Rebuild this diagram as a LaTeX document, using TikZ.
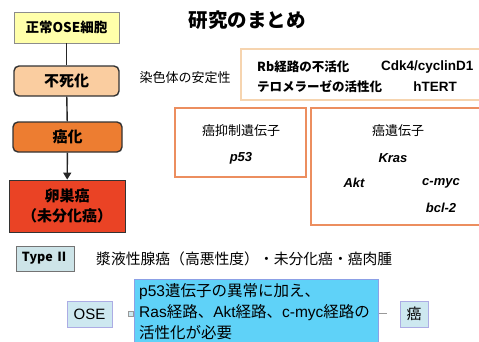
\documentclass[tikz,border=0pt]{standalone}
\usepackage{fontspec}
\setmainfont{Liberation Sans}
\newfontfamily\jp{Noto Sans CJK JP}
\usetikzlibrary{arrows.meta,positioning}

\begin{document}
\begin{tikzpicture}[x=1pt,y=-1pt,
  stage/.style={draw=black!80,line width=1.4pt,rounded corners=5pt,font=\jp\bfseries\fontsize{15}{18}\selectfont},
  genebox/.style={line width=1.6pt},
  gene/.style={font=\bfseries\itshape\fontsize{13}{15}\selectfont},
  label/.style={font=\jp\fontsize{13}{15}\selectfont},
  tagbox/.style={draw=tagline,fill=tagfill,line width=0.8pt,inner sep=0pt,font=\jp\fontsize{15}{18}\selectfont}]

\definecolor{normalyellow}{RGB}{255,255,170}
\definecolor{immortalpeach}{RGB}{250,205,160}
\definecolor{cancerorange}{RGB}{237,125,49}
\definecolor{ovarianred}{RGB}{234,67,37}
\definecolor{paleorange}{RGB}{246,212,175}
\definecolor{boxorange}{RGB}{236,142,95}
\definecolor{typefill}{RGB}{205,228,232}
\definecolor{tagfill}{RGB}{205,232,240}
\definecolor{tagline}{RGB}{172,172,228}
\definecolor{noteblue}{RGB}{95,210,248}
\definecolor{noteline}{RGB}{140,160,230}

\useasboundingbox (0,0) rectangle (479,341);
\clip (0,0) rectangle (479,341);

% progression
\node [draw=black!45,fill=normalyellow,line width=0.8pt,minimum width=105pt,minimum height=31pt,
  font=\jp\bfseries\fontsize{13.5}{16}\selectfont] (normal) at (66.5,27.5) {正常OSE細胞};
\node [stage,fill=immortalpeach,minimum width=105pt,minimum height=30pt] (immortal) at (66.5,81) {不死化};
\node [stage,fill=cancerorange,minimum width=109pt,minimum height=30pt] (cancer) at (67.5,137) {癌化};
\node [draw=black!80,fill=ovarianred,line width=0.8pt,minimum width=116pt,minimum height=52pt,align=center,
  font=\jp\bfseries\fontsize{15}{20}\selectfont] (ovarian) at (67,206) {卵巣癌\\（未分化癌）};

\draw [line width=1.4pt,black!85] (normal) -- (immortal);
\draw [line width=1.4pt,black!85] (immortal) -- (cancer);
\draw [line width=1.4pt,black!85,-{Triangle[length=7pt,width=8pt]}] (cancer) -- (ovarian);

\node [font=\jp\bfseries\fontsize{19.5}{23}\selectfont] (title) at (247,20) {研究のまとめ};

% chromosome stability
\node [label] (chrom) at (185,78) {染色体の安定性};
\draw [genebox,draw=paleorange,fill=white] (241,49) rectangle (481,100);
\node [label,font=\jp\bfseries\fontsize{12.5}{15}\selectfont,anchor=west,inner sep=0pt] (rb) at (257,67) {Rb経路の不活化};
\node [gene,font=\bfseries\fontsize{13.5}{15}\selectfont,anchor=west,inner sep=0pt] (cdk) at (381,67) {Cdk4/cyclinD1};
\node [label,font=\jp\bfseries\fontsize{12.5}{15}\selectfont,anchor=west,inner sep=0pt] (telo) at (257,87) {テロメラーゼの活性化};
\node [gene,font=\bfseries\fontsize{13.5}{15}\selectfont] (htert) at (435,87) {hTERT};

% genes
\draw [genebox,draw=boxorange] (175,108) rectangle (306,177);
\node [label] (supp) at (241,131) {癌抑制遺伝子};
\node [gene] (p53) at (241,158) {p53};

\draw [genebox,draw=boxorange] (311,108) rectangle (481,225);
\node [label] (onco) at (398,131) {癌遺伝子};
\node [gene] (kras) at (393,158) {Kras};
\node [gene] (akt) at (354,183) {Akt};
\node [gene] (myc) at (441,183) {c-myc};
\node [gene] (bcl) at (441,208) {bcl-2};

% type II
\node [draw=black!55,fill=typefill,line width=0.8pt,minimum width=58pt,minimum height=25pt,
  font=\jp\bfseries\fontsize{12.5}{15}\selectfont] (type) at (45,258.5) {Type Ⅱ};
\node [label,font=\jp\fontsize{14.8}{17}\selectfont,anchor=west,inner sep=0pt] (serous) at (96,259) {漿液性腺癌（高悪性度）・未分化癌・癌肉腫};

\node [tagbox,font=\fontsize{15}{18}\selectfont,minimum width=45pt,minimum height=26pt] (ose) at (89.5,314) {OSE};
\node [draw=black!40,fill=tagfill,line width=0.6pt,minimum size=5pt,inner sep=0pt] (knob) at (130.5,313.5) {};
\node [draw=noteline,fill=noteblue,line width=0.8pt,minimum width=244pt,minimum height=72pt,anchor=north west] (note) at (134,279) {};
\node [anchor=north west,align=left,inner sep=0pt,font=\fontsize{15.5}{21}\selectfont] (notetext) at (139,283)
  {p53{\jp 遺伝子の異常に加え、}\\Ras{\jp 経路、}Akt{\jp 経路、}c-myc{\jp 経路の}\\{\jp 活性化が必要}};
\coordinate (tip) at (387,313);
\draw [black!40,line width=0.8pt] (note.east |- tip) -- (tip);
\node [tagbox,minimum width=28pt,minimum height=26pt] (gan) at (414,314) {癌};

\end{tikzpicture}
\end{document}
